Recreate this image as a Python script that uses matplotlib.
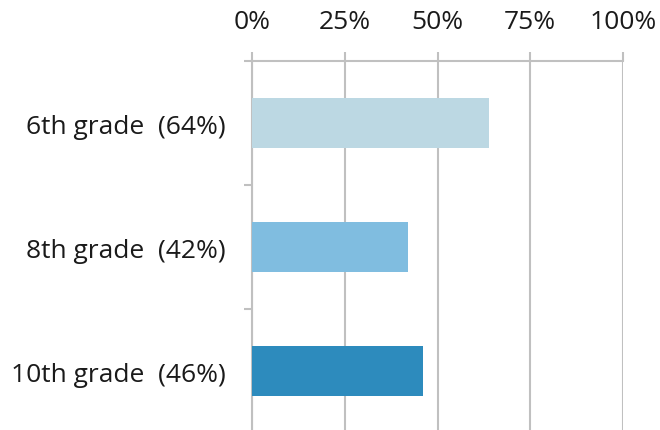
import numpy as np
import matplotlib.pyplot as plt

grades = ["6th grade", "8th grade", "10th grade"]
values = [64, 42, 46]
colors = ["#bcd8e3", "#80bde0", "#2d8bbd"]
xticks = [0, 25, 50, 75, 100]

plt.rcParams["font.family"] = ["Open Sans", "DejaVu Sans"]

fig = plt.figure(figsize=(6.6, 4.31), dpi=100)
ax = fig.add_axes([252 / 660, 1 - 434 / 431, 371 / 660, 372 / 431])

y = np.arange(len(grades))
ax.barh(y, values, height=0.4, color=colors, zorder=3)

ax.set_xlim(0, 100)
ax.set_ylim(2.5, -0.5)

grid_c = "#c0c0c0"
text_c = "#1a1a1a"
ax.xaxis.tick_top()
ax.set_xticks(xticks)
ax.set_xticklabels([f"{v}%" for v in xticks], fontsize=19, color=text_c)
ax.tick_params(axis="x", length=6.5, width=1.5, color=grid_c, pad=13)
ax.grid(axis="x", color=grid_c, linewidth=1.5, zorder=0)

ax.set_yticks(y)
ax.set_yticklabels([f"{g}  ({v}%)" for g, v in zip(grades, values)],
                   fontsize=19, color=text_c)
ax.set_yticks([-0.5, 0.5, 1.5], minor=True)
ax.tick_params(axis="y", which="major", length=0, pad=19)
ax.tick_params(axis="y", which="minor", length=6, width=1.5, color=grid_c)

for s in ["right", "bottom"]:
    ax.spines[s].set_visible(False)
for s in ["left", "top"]:
    ax.spines[s].set_color(grid_c)
    ax.spines[s].set_linewidth(1.5)

fig.savefig("out.png", dpi=100)
